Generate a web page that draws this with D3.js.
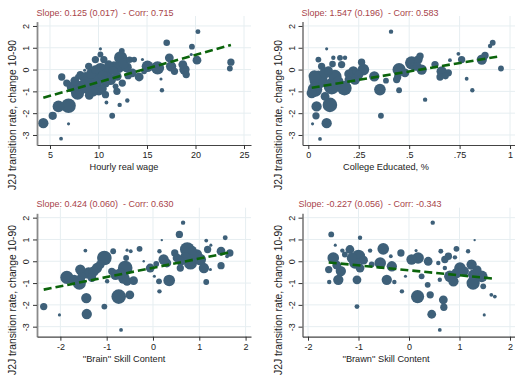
<!DOCTYPE html>
<html>
<head>
<meta charset="utf-8">
<script src="https://cdn.jsdelivr.net/npm/d3@7"></script>
<style>
  body { margin: 0; background: #fff; }
  svg { display: block; }
  text { font-family: "Liberation Sans", Arial, sans-serif; fill: #222; }
</style>
</head>
<body>
<svg id="chart" width="515" height="377"></svg>
<script>
// ---- data ---------------------------------------------------------------
const yTicks = [-3, -2, -1, 0, 1, 2];
const wageTicks = [5, 10, 15, 20, 25];
const collegeTicks = [0, 0.25, 0.5, 0.75, 1];
const collegeTickLabels = ["0", ".25", ".5", ".75", "1"];
const skillTicks = [-2, -1, 0, 1, 2];

// each occupation: [x value, change in J2J rate 1990-2010, employment weight]
const wagePts = [
  [4.31,-2.46,22],[5.28,-2.12,14],[6.14,-3.17,3],[6.91,-2.49,2],[5.87,-1.69,28],
  [6.91,-1.66,44],[6.21,-0.34,11],[6.73,-0.62,11],[7.25,-0.80,22],[7.84,-1.08,36],
  [7.88,-0.34,7],[8.57,-0.03,2],[8.47,-0.69,22],[9.16,-0.62,36],[9.68,0.46,11],
  [10.2,0.95,2],[10.55,0.46,11],[10.03,-0.92,28],[10.2,0.00,36],[9.50,-0.31,28],
  [10.9,-0.15,22],[11.24,-0.46,25],[10.72,-0.62,16],[11.59,0.15,22],[12.28,0.54,36],
  [12.1,0.08,22],[10.72,-1.15,11],[10.82,-1.51,3],[11.41,-2.12,7],[12.18,-1.62,4],
  [12.97,-1.42,4],[12.9,0.11,22],[13.67,0.46,7],[13.49,-0.15,16],[14.19,-0.34,16],
  [14.53,0.46,2],[15.05,0.15,28],[16.44,-0.43,2],[16.54,-0.95,4],[16.09,0.08,36],
  [17.03,1.23,9],[17.3,0.54,16],[17.48,0.15,22],[18.69,0.23,16],[18.86,0.00,22],
  [19.04,-0.23,11],[19.63,1.05,7],[19.56,0.69,2],[20.15,0.43,16],[20.25,1.74,5],
  [23.65,0.34,11],[23.54,0.05,7],[8.99,0.15,11],[9.68,0.00,16],[8.81,-0.92,16],
  [9.44,-1.00,22],[11.93,-0.31,16],[12.45,-0.62,11],[10.2,0.69,7],[11.76,-0.77,7],
  [8.12,-0.23,11],[17.83,-0.08,11],[14.7,-0.08,7],
  [7.55,-0.52,16],[8.05,-0.75,22],[8.65,-0.38,28],[9.25,-0.18,22],[9.85,-0.52,28],
  [10.45,-0.28,22],[11.05,0.22,16],[11.5,-0.05,16],[12.6,0.28,22],[13.05,-0.28,11],
  [9.05,-1.18,16],[10.4,-0.88,16],[11.9,-1.0,11],[12.4,0.85,7],[13.2,0.45,9]
];

const collegePts = [
  [0.091,-2.46,22],[0.038,-2.12,11],[0.058,-3.18,3],[0.021,-2.49,2],[0.041,-1.69,22],
  [0.107,-1.62,44],[0.050,0.46,7],[0.091,0.95,2],[0.050,-0.46,69],[0.033,-0.92,44],
  [0.116,-0.77,54],[0.132,-0.31,36],[0.083,-0.15,25],[0.165,0.23,11],[0.124,0.54,4],
  [0.157,0.54,7],[0.182,0.54,4],[0.179,-0.85,44],[0.223,-0.08,22],[0.231,-0.46,22],
  [0.273,0.00,28],[0.264,0.34,11],[0.327,-0.31,22],[0.355,-0.92,28],[0.360,-2.12,7],
  [0.385,-0.51,7],[0.410,1.74,4],[0.450,0.00,36],[0.443,-0.34,11],[0.450,-0.95,7],
  [0.512,0.31,36],[0.545,0.46,16],[0.554,0.62,11],[0.526,0.15,16],[0.579,-1.38,4],
  [0.628,0.23,11],[0.661,-0.08,22],[0.653,-0.34,11],[0.694,-0.15,11],[0.702,0.43,3],
  [0.744,0.72,3],[0.760,0.46,11],[0.785,-0.42,3],[0.813,-0.95,4],[0.860,0.46,22],
  [0.876,0.65,11],[0.901,1.08,4],[0.914,1.23,7],[0.955,0.05,7],[0.066,0.15,11],
  [0.017,-1.08,22],[0.083,-1.23,16],[0.149,-0.54,22],[0.198,-0.46,11],[0.479,-0.15,16],
  [0.562,0.00,22],[0.438,-0.46,11],
  [0.030,-0.30,28],[0.100,-0.05,16],[0.120,0.25,9],[0.200,-0.20,16],[0.250,-0.25,16],
  [0.540,0.15,16],[0.680,-0.30,9]
];

const brainPts = [
  [-2.36,-2.08,11],[-2.02,-2.46,2],[-1.86,-0.74,36],[-1.59,-1.00,36],[-1.57,-0.38,22],
  [-1.54,-0.69,16],[-1.46,0.49,3],[-1.44,-1.69,22],[-1.43,-2.42,22],[-1.39,-0.54,28],
  [-1.28,-0.46,22],[-1.21,-0.31,22],[-1.14,-0.15,16],[-1.05,0.15,44],[-1.05,-2.08,7],
  [-0.86,0.46,7],[-0.89,-0.46,11],[-0.81,-0.62,22],[-0.74,-1.62,44],[-0.69,-3.15,3],
  [-0.56,0.51,2],[-0.58,0.15,7],[-0.60,-0.31,44],[-0.63,-0.77,28],[-0.56,-0.92,16],
  [-0.50,-1.54,16],[-0.48,0.46,3],[-0.42,-0.89,16],[-0.29,0.57,7],[-0.20,0.00,1],
  [-0.06,-0.31,16],[0.03,-0.69,2],[0.07,-0.12,7],[0.13,-0.92,7],[0.14,-1.38,4],
  [0.14,0.46,4],[0.19,0.97,1],[0.23,0.08,22],[0.30,-0.08,16],[0.35,-0.88,28],
  [0.47,0.38,11],[0.59,-0.31,11],[0.57,1.23,11],[0.65,1.77,4],[0.74,0.54,44],
  [0.70,0.15,28],[0.81,-0.08,36],[0.95,0.31,22],[1.02,0.08,28],[1.10,-0.31,22],
  [1.18,0.54,11],[1.15,0.95,3],[1.25,0.74,2],[1.24,-0.38,2],[1.15,-0.95,7],
  [1.47,-0.20,11],[1.47,0.46,16],[1.56,1.08,5],[1.60,0.23,3],[1.66,0.38,11],
  [-0.99,-0.92,4],[0.52,0.15,16],[0.88,0.31,16],
  [-1.70,-0.85,22],[-1.32,-0.75,16],[-0.70,-0.55,22],[0.60,0.00,16],[0.85,0.50,16]
];

const brawnPts = [
  [-1.54,1.23,7],[-1.46,0.74,2],[-1.59,-0.38,11],[-1.58,-0.95,4],[-1.50,0.15,28],
  [-1.43,-0.18,16],[-1.40,-0.85,22],[-1.32,0.49,4],[-1.27,0.31,7],[-1.17,0.54,16],
  [-1.13,0.15,22],[-1.07,-0.08,28],[-1.00,0.23,36],[-0.97,1.08,4],[-1.03,-0.85,16],
  [-1.03,-2.08,5],[-0.97,-0.31,16],[-0.77,0.49,4],[-0.74,-0.15,7],[-0.57,-0.08,28],
  [-0.51,0.57,28],[-0.44,-0.85,22],[-0.34,-0.23,22],[-0.36,0.23,3],[-0.29,-0.95,4],
  [-0.16,0.38,11],[-0.14,-1.38,4],[-0.07,-0.69,2],[0.05,0.08,22],[0.18,0.15,28],
  [0.14,0.49,2],[0.17,-1.62,36],[0.25,-0.69,7],[0.37,-1.08,7],[0.38,0.00,16],
  [0.42,-1.54,11],[0.45,-2.43,16],[0.47,1.77,4],[0.58,-0.08,4],[0.63,0.46,5],
  [0.61,-0.85,4],[0.68,-1.77,16],[0.69,-2.11,11],[0.61,-3.15,3],[0.71,0.08,11],
  [0.78,0.23,11],[0.91,0.18,4],[0.94,0.57,7],[0.71,-0.31,4],[0.81,-0.69,28],
  [0.88,-0.92,22],[0.94,-0.54,22],[1.01,-0.31,28],[1.17,0.46,4],[1.21,-0.03,3],
  [1.24,-0.15,22],[1.27,-0.62,22],[1.27,-1.00,36],[1.30,0.97,1],[1.44,-0.69,28],
  [1.47,-1.15,7],[1.49,-2.46,2],[1.63,-1.54,3],[1.70,-1.62,3],
  [-1.35,-0.45,22],[-0.90,0.05,16],[1.10,-0.45,16],[1.35,-0.40,16]
];

// weighted linear fits: slope (s.e.), correlation, intercept
const fitSlopes = [0.125, 1.547, 0.424, -0.227];
const fitSE = ["0.017", "0.196", "0.060", "0.056"];
const fitCorr = ["0.715", "0.583", "0.630", "-0.343"];
const fitIntercepts = [-1.83, -0.86, -0.30, -0.415];

const xTitles = ["Hourly real wage", "College Educated, %", "''Brain'' Skill Content", "''Brawn'' Skill Content"];
const yTitle = "J2J transition rate, change 10-90";

// ---- layout -------------------------------------------------------------
const svg = d3.select("#chart");
const W = 214;
const colX = [37, 302.5];
const rowY = [0, 191.7];

const panels = [
  { pts: wagePts,    ticks: wageTicks,    labels: null,              dom: [3.66, 25.72],   col: 0, row: 0 },
  { pts: collegePts, ticks: collegeTicks, labels: collegeTickLabels, dom: [-0.0288, 1.032], col: 1, row: 0 },
  { pts: brainPts,   ticks: skillTicks,   labels: null,              dom: [-2.505, 2.117], col: 0, row: 1 },
  { pts: brawnPts,   ticks: skillTicks,   labels: null,              dom: [-2.109, 2.129], col: 1, row: 1 }
];

const rScale = d3.scaleSqrt().domain([0, 69]).range([0, 1.1 * Math.sqrt(69)]);
const dotColor = "#3e6079";
const gridColor = "#e6eef1";

panels.forEach((p, i) => {
  const L = colX[p.col], oy = rowY[p.row];
  const x = d3.scaleLinear().domain(p.dom).range([L, L + W]);
  const y = d3.scaleLinear().domain([-3.46, 2.2]).range([145 + oy, 21.6 + oy]);
  const B = 145 + oy, gridTop = 16 + oy;
  const g = svg.append("g");

  // grid
  g.selectAll(".hg").data(yTicks).join("line")
    .attr("x1", L).attr("x2", L + W)
    .attr("y1", d => y(d)).attr("y2", d => y(d))
    .attr("stroke", gridColor).attr("stroke-width", 1);
  g.selectAll(".vg").data(p.ticks).join("line")
    .attr("x1", d => x(d)).attr("x2", d => x(d))
    .attr("y1", gridTop).attr("y2", B)
    .attr("stroke", gridColor).attr("stroke-width", 1);

  // bubbles, largest first so small ones stay visible
  const sorted = p.pts.slice().sort((a, b) => b[2] - a[2]);
  g.selectAll("circle").data(sorted).join("circle")
    .attr("cx", d => x(d[0])).attr("cy", d => y(d[1]))
    .attr("r", d => Math.max(1.2, rScale(d[2])))
    .attr("fill", dotColor);

  // fitted line over the range of the data
  const ext = d3.extent(p.pts, d => d[0]);
  const fx = v => fitSlopes[i] * v + fitIntercepts[i];
  g.append("line")
    .attr("x1", x(ext[0])).attr("y1", y(fx(ext[0])))
    .attr("x2", x(ext[1])).attr("y2", y(fx(ext[1])))
    .attr("stroke", "#0b640b").attr("stroke-width", 2.6)
    .attr("stroke-dasharray", "8,4");

  // y axis
  const ya = d3.axisLeft(y).tickValues(yTicks).tickSize(4).tickSizeOuter(0).tickFormat(d3.format("d"));
  const yg = g.append("g").attr("transform", `translate(${L},0)`).call(ya);
  yg.select(".domain").attr("stroke", "#8a8a8a").attr("stroke-width", 1.8);
  yg.selectAll(".tick line").attr("stroke", "#333");
  yg.selectAll(".tick text")
    .attr("transform", "rotate(-90)")
    .attr("x", 0).attr("y", -8).attr("dy", 0)
    .attr("text-anchor", "middle")
    .style("font-size", "9px").style("fill", "#222")
    .text(d => d < 0 ? "-" + Math.abs(d) : d);

  // x axis
  const xa = d3.axisBottom(x).tickValues(p.ticks).tickSize(4).tickSizeOuter(0)
    .tickFormat((d, k) => p.labels ? p.labels[k] : (d < 0 ? "-" + Math.abs(d) : d));
  const xg = g.append("g").attr("transform", `translate(0,${B})`).call(xa);
  xg.select(".domain").attr("stroke", "#444").attr("stroke-width", 1.2);
  xg.selectAll(".tick line").attr("stroke", "#333");
  xg.selectAll(".tick text").attr("y", 7).attr("dy", "0.71em")
    .style("font-size", "9px").style("fill", "#222");

  // titles
  const cx = p.col === 0 ? 105 : 370;
  g.append("text")
    .attr("x", cx).attr("y", 15.5 + oy)
    .attr("text-anchor", "middle")
    .attr("xml:space", "preserve")
    .style("white-space", "pre")
    .style("font-size", "9px").style("fill", "#a8444a")
    .text(`Slope: ${fitSlopes[i].toFixed(3)} (${fitSE[i]})  - Corr: ${fitCorr[i]}`);

  g.append("text")
    .attr("x", p.col === 0 ? 124 : 386).attr("y", 170 + oy)
    .attr("text-anchor", "middle")
    .style("font-size", "9.2px")
    .text(xTitles[i]);

  // the lower row's axis title is nudged up so it stays inside the frame
  const ly = (p.row === 0 ? 115 : 300), lx = (p.col === 0 ? 16 : 281.5);
  g.append("text")
    .attr("transform", `translate(${lx},${ly}) rotate(-90)`)
    .attr("text-anchor", "middle")
    .style("font-size", "10.3px")
    .text(yTitle);
});
</script>
</body>
</html>
